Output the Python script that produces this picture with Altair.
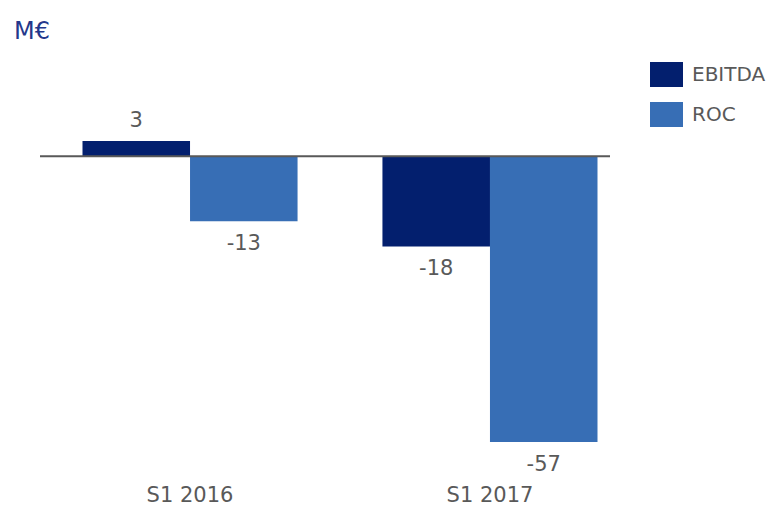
import altair as alt
import pandas as pd

categories = ["S1 2016", "S1 2017"]
series = ["EBITDA", "ROC"]
ebitda = [3, -18]
roc = [-13, -57]

rows = []
for i, c in enumerate(categories):
    rows.append({"period": c, "metric": "EBITDA", "value": ebitda[i]})
    rows.append({"period": c, "metric": "ROC", "value": roc[i]})
df = pd.DataFrame(rows)

FONT = "DejaVu Sans"
GRAY = "#595959"

x = alt.X("period:N", sort=categories, title=None,
          scale=alt.Scale(paddingInner=0.283, paddingOuter=0.1417),
          axis=alt.Axis(labelAngle=0, domain=False, ticks=False, labelPadding=27,
                        labelFontSize=21, labelColor=GRAY, labelFont=FONT))
y = alt.Y("value:Q", scale=alt.Scale(domain=[-60, 10], nice=False, zero=True), axis=None)
color = alt.Color("metric:N", sort=series,
                  scale=alt.Scale(domain=series, range=["#031F6E", "#376EB5"]),
                  legend=alt.Legend(title=None, orient="none", legendX=610, legendY=-48,
                                    symbolType="M-1,-0.76H1V0.76H-1Z", symbolSize=1089,
                                    symbolStrokeWidth=0, symbolOpacity=1,
                                    labelFontSize=20, labelColor=GRAY, labelFont=FONT,
                                    labelOffset=9, rowPadding=10, padding=0))

base = alt.Chart(df).transform_calculate(
    label="toString(datum.value)"
).encode(x=x, xOffset=alt.XOffset("metric:N", sort=series))

bars = base.mark_bar(opacity=1).encode(y=y, color=color)

pos_labels = base.transform_filter("datum.value >= 0").mark_text(
    baseline="bottom", dy=-10, fontSize=21, font=FONT, color=GRAY
).encode(y=y, text=alt.Text("label:N"))

neg_labels = base.transform_filter("datum.value < 0").mark_text(
    baseline="top", dy=12, fontSize=21, font=FONT, color=GRAY
).encode(y=y, text=alt.Text("label:N"))

zero = alt.Chart(pd.DataFrame({"z": [0]})).mark_rule(color=GRAY, strokeWidth=2).encode(
    y=alt.Y("z:Q", scale=alt.Scale(domain=[-60, 10], nice=False), axis=None),
    x=alt.value(0), x2=alt.value(570))

chart = alt.layer(bars, zero, pos_labels, neg_labels).properties(
    width=600, height=351,
    autosize=alt.AutoSizeParams(type="none"),
    padding={"left": 32, "top": 98, "right": 127, "bottom": 51},
    title=alt.TitleParams("M€", anchor="start", frame="group", dx=-26, offset=14,
                          fontSize=24, font=FONT, fontWeight="normal", color="#24378B"),
).configure_view(stroke=None)

chart.save("out.html", embed_options={"renderer": "svg", "actions": False})
